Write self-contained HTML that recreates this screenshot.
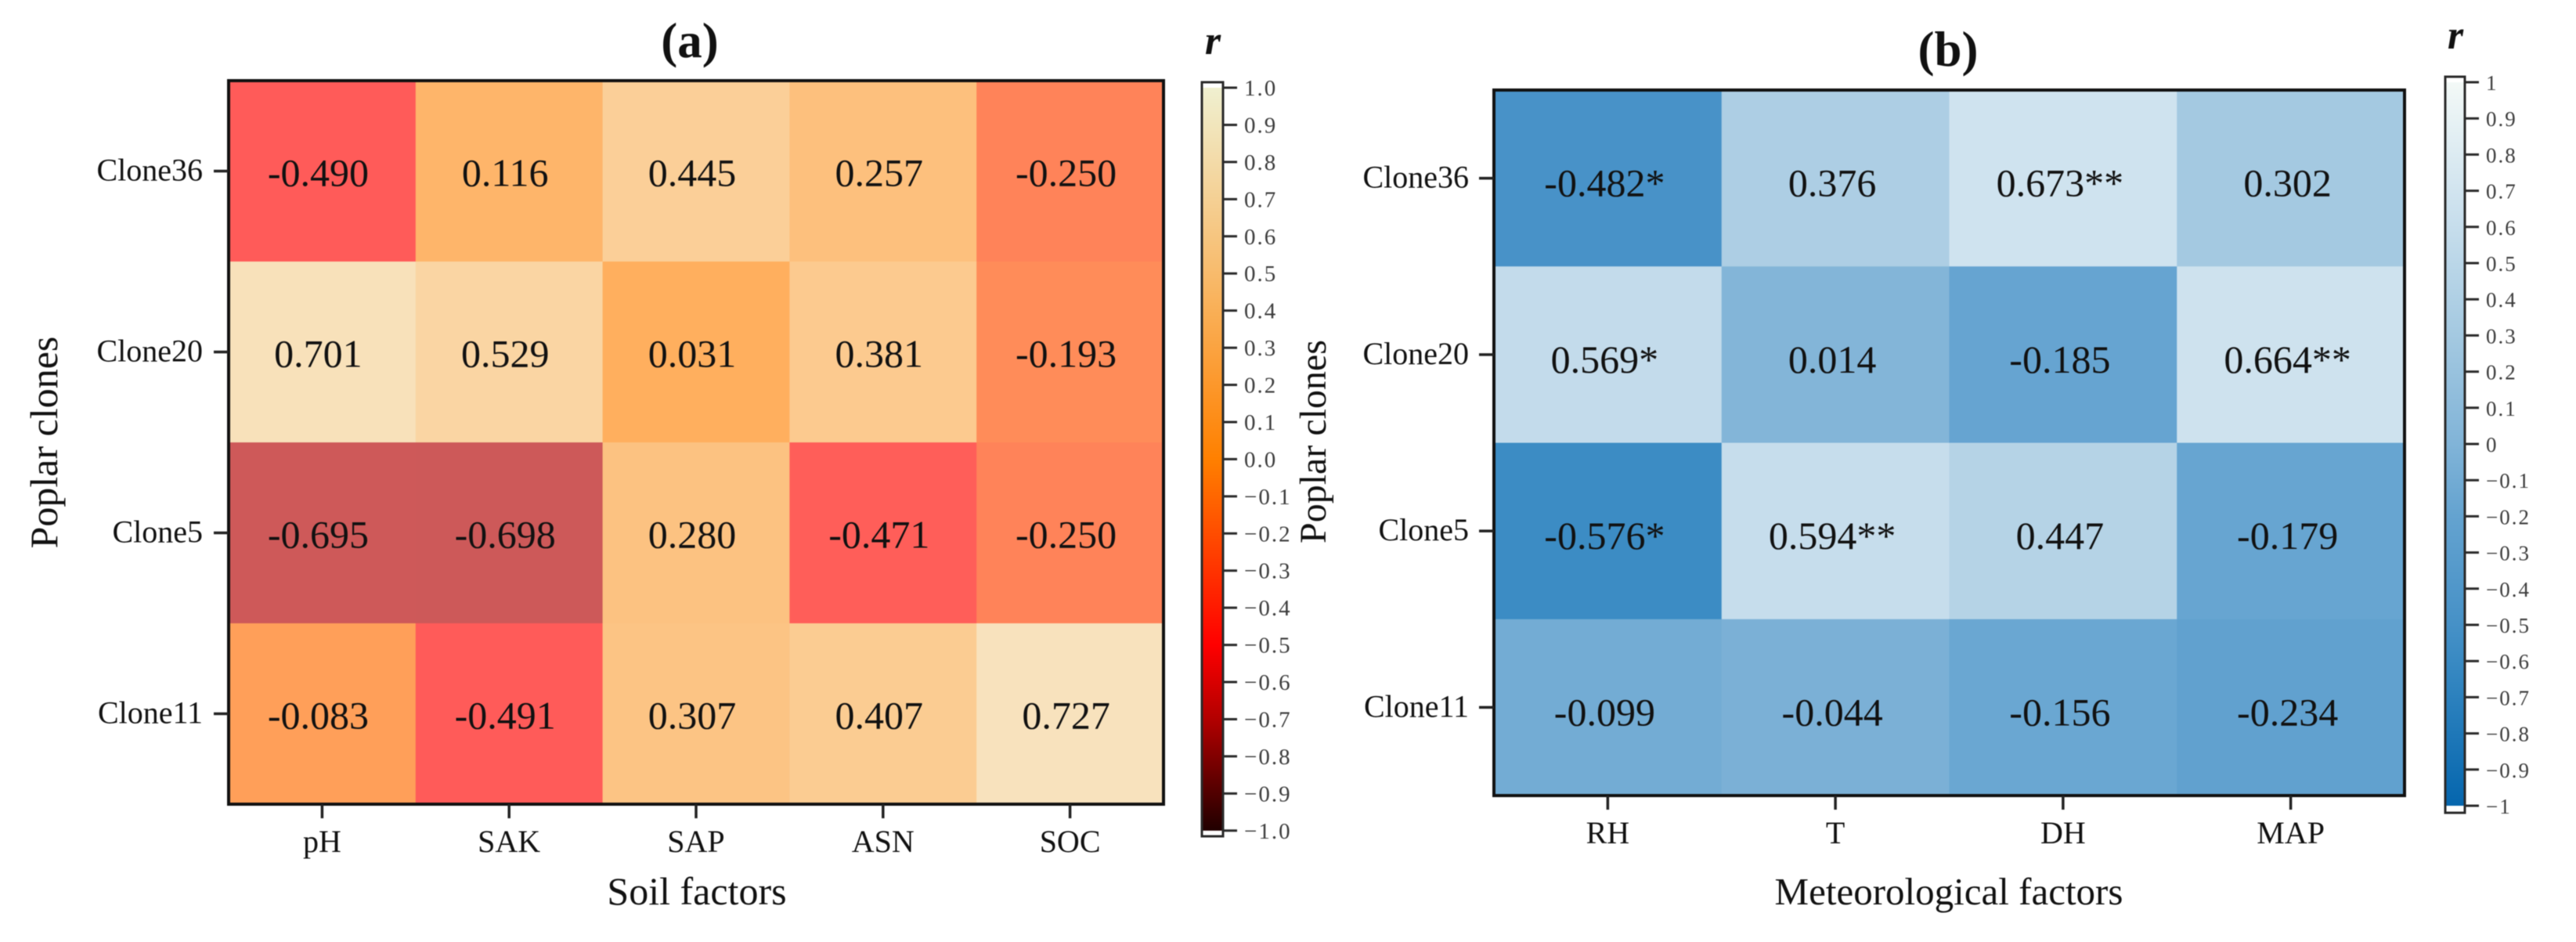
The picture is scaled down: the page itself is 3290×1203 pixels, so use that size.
<!DOCTYPE html>
<html lang="en">
<head>
<meta charset="utf-8">
<title>Correlation heatmaps of poplar clones</title>
<style>
  html, body { margin: 0; padding: 0; background: #fff; }
  body { width: 3290px; height: 1203px; overflow: hidden; }
  svg { display: block; font-family: "Liberation Serif", serif; filter: blur(0.6px); }
  text { fill: #111; }
  .cb-label { fill: #3c3c3c; letter-spacing: 2px; }
</style>
</head>
<body>
<svg id="figure" xmlns="http://www.w3.org/2000/svg" width="3290" height="1203" viewBox="0 0 3290 1203">
  <rect x="0" y="0" width="3290" height="1203" fill="#fff"/>
  <defs id="gradients"></defs>

  <g id="panel-a">
    <text x="881" y="73" font-size="63" font-weight="bold" text-anchor="middle">(a)</text>
    <text x="890" y="1155" font-size="50" text-anchor="middle">Soil factors</text>
    <text transform="translate(73 565) rotate(-90)" font-size="50" text-anchor="middle">Poplar clones</text>
    <text x="1549" y="69" font-size="52" font-style="italic" font-weight="bold" text-anchor="middle">r</text>
  </g>

  <g id="panel-b">
    <text x="2488" y="84" font-size="63" font-weight="bold" text-anchor="middle">(b)</text>
    <text x="2489" y="1155" font-size="49" text-anchor="middle">Meteorological factors</text>
    <text transform="translate(1693 564) rotate(-90)" font-size="48" text-anchor="middle">Poplar clones</text>
    <text x="3136" y="62" font-size="52" font-style="italic" font-weight="bold" text-anchor="middle">r</text>
  </g>
</svg>

<script>
// ---- Data -------------------------------------------------------------
const cloneNames = ['Clone36', 'Clone20', 'Clone5', 'Clone11'];

const soilFactors = ['pH', 'SAK', 'SAP', 'ASN', 'SOC'];
const soilClone36 = [-0.490, 0.116, 0.445, 0.257, -0.250];
const soilClone20 = [0.701, 0.529, 0.031, 0.381, -0.193];
const soilClone5 = [-0.695, -0.698, 0.280, -0.471, -0.250];
const soilClone11 = [-0.083, -0.491, 0.307, 0.407, 0.727];

const meteoFactors = ['RH', 'T', 'DH', 'MAP'];
const meteoClone36 = [-0.482, 0.376, 0.673, 0.302];
const meteoClone20 = [0.569, 0.014, -0.185, 0.664];
const meteoClone5 = [-0.576, 0.594, 0.447, -0.179];
const meteoClone11 = [-0.099, -0.044, -0.156, -0.234];

const meteoStars36 = ['*', '', '**', ''];
const meteoStars20 = ['*', '', '', '**'];
const meteoStars5 = ['*', '**', '', ''];
const meteoStars11 = ['', '', '', ''];

const colorbarTicks = [1, 0.9, 0.8, 0.7, 0.6, 0.5, 0.4, 0.3, 0.2, 0.1, 0, -0.1, -0.2, -0.3, -0.4, -0.5, -0.6, -0.7, -0.8, -0.9, -1];
const soilTickLabels = ['1.0', '0.9', '0.8', '0.7', '0.6', '0.5', '0.4', '0.3', '0.2', '0.1', '0.0', '\u22120.1', '\u22120.2', '\u22120.3', '\u22120.4', '\u22120.5', '\u22120.6', '\u22120.7', '\u22120.8', '\u22120.9', '\u22121.0'];
const meteoTickLabels = ['1', '0.9', '0.8', '0.7', '0.6', '0.5', '0.4', '0.3', '0.2', '0.1', '0', '\u22120.1', '\u22120.2', '\u22120.3', '\u22120.4', '\u22120.5', '\u22120.6', '\u22120.7', '\u22120.8', '\u22120.9', '\u22121'];

// Colour maps: [value, r, g, b]
const soilColormap = [
  [-1, 32, 0, 0], [-0.7, 178, 0, 0], [-0.5, 255, 0, 0], [0, 255, 128, 0], [0.5, 248, 187, 108], [1, 240, 240, 208]
];
const meteoColormap = [
  [-1, 5, 102, 174], [-0.6, 57, 138, 195], [-0.5, 70, 145, 199], [-0.2, 100, 163, 208],
  [0, 129, 180, 216], [0.3, 164, 201, 225], [0.65, 204, 225, 238], [1, 243, 249, 247]
];

// ---- Helpers ----------------------------------------------------------
const SVG_NS = 'http://www.w3.org/2000/svg';

function add(parent, tag, attrs, content) {
  const node = document.createElementNS(SVG_NS, tag);
  Object.keys(attrs).forEach(function (k) { node.setAttribute(k, attrs[k]); });
  if (content !== undefined) node.textContent = content;
  parent.appendChild(node);
  return node;
}

function sampleColormap(map, value) {
  const v = Math.max(map[0][0], Math.min(map[map.length - 1][0], value));
  for (let i = 1; i < map.length; i++) {
    if (v <= map[i][0]) {
      const a = map[i - 1], b = map[i];
      const t = (v - a[0]) / (b[0] - a[0]);
      return [1, 2, 3].map(function (c) { return a[c] + (b[c] - a[c]) * t; });
    }
  }
  return map[map.length - 1].slice(1);
}

function rgbString(c) {
  return 'rgb(' + c.map(Math.round).join(',') + ')';
}

function cellColor(map, value, alpha) {
  const c = sampleColormap(map, value);
  return rgbString(c.map(function (ch) { return ch * alpha + 255 * (1 - alpha); }));
}

// ---- Panel drawing ----------------------------------------------------
function drawHeatmap(group, cfg) {
  const colW = (cfg.right - cfg.left) / cfg.columns.length;
  const rowH = (cfg.bottom - cfg.top) / cfg.rows.length;
  const xCenter = function (i) { return cfg.left + colW * (i + 0.5); };
  const yCenter = function (j) { return cfg.top + rowH * (j + 0.5); };

  cfg.values.forEach(function (rowValues, j) {
    rowValues.forEach(function (value, i) {
      const cell = add(group, 'rect', {
        x: cfg.left + colW * i, y: cfg.top + rowH * j,
        width: colW + 0.5, height: rowH + 0.5,
        fill: cellColor(cfg.colormap, value, cfg.alpha)
      });
      
      
    });
  });

  cfg.values.forEach(function (rowValues, j) {
    rowValues.forEach(function (value, i) {
      const stars = cfg.stars ? cfg.stars[j][i] : '';
      const label = add(group, 'text', {
        x: xCenter(i) + cfg.valueDx, y: yCenter(j) + cfg.valueDy,
        'font-size': cfg.valueFont, 'text-anchor': 'middle', fill: '#0a0a0a'
      }, value.toFixed(3) + stars);
      
      
    });
  });

  const frame = add(group, 'rect', {
    x: cfg.left, y: cfg.top, width: cfg.right - cfg.left, height: cfg.bottom - cfg.top,
    fill: 'none', stroke: '#111', 'stroke-width': 4
  });
  
  

  cfg.columns.forEach(function (name, i) {
    const tick = add(group, 'line', {
      x1: xCenter(i), x2: xCenter(i), y1: cfg.bottom, y2: cfg.bottom + 18,
      stroke: '#222', 'stroke-width': 3.5
    });
    
    
    const label = add(group, 'text', {
      x: xCenter(i), y: cfg.xLabelY, 'font-size': 40, 'text-anchor': 'middle'
    }, name);
    
    
  });

  cfg.rows.forEach(function (name, j) {
    const tick = add(group, 'line', {
      x1: cfg.left - 19, x2: cfg.left, y1: yCenter(j), y2: yCenter(j),
      stroke: '#222', 'stroke-width': 3.5
    });
    
    
    const label = add(group, 'text', {
      x: cfg.yLabelX, y: yCenter(j) + 12, 'font-size': 40, 'text-anchor': 'end'
    }, name);
    
    
  });
}

function drawColorbar(group, cfg) {
  const yScale = function (v) { return cfg.mid - v * cfg.halfSpan; };
  const defs = document.getElementById('gradients');
  const grad = add(defs, 'linearGradient', {
    id: cfg.id, gradientUnits: 'userSpaceOnUse',
    x1: 0, x2: 0, y1: yScale(1), y2: yScale(-1)
  });
  cfg.colormap.slice().reverse().forEach(function (stop) {
    add(grad, 'stop', {
      offset: (1 - stop[0]) / 2,
      'stop-color': rgbString(stop.slice(1))
    });
  });

  const bar = add(group, 'rect', {
    x: cfg.left, y: yScale(1), width: cfg.right - cfg.left, height: yScale(-1) - yScale(1),
    fill: 'url(#' + cfg.id + ')'
  });
  
  

  const outline = add(group, 'rect', {
    x: cfg.left, y: cfg.top, width: cfg.right - cfg.left, height: cfg.bottom - cfg.top,
    fill: 'none', stroke: '#2a2a2a', 'stroke-width': 3
  });
  
  

  colorbarTicks.forEach(function (value, i) {
    const tick = add(group, 'line', {
      x1: cfg.right, x2: cfg.right + 18, y1: yScale(value), y2: yScale(value),
      stroke: '#2a2a2a', 'stroke-width': 3
    });
    
    
    const label = add(group, 'text', {
      x: cfg.labelX, y: yScale(value) + cfg.labelDy, 'font-size': cfg.labelFont, 'class': 'cb-label'
    }, cfg.labels[i]);
    
    
  });
}

// ---- Build ------------------------------------------------------------
const panelA = document.getElementById('panel-a');
const panelB = document.getElementById('panel-b');

drawHeatmap(panelA, {
  left: 292, right: 1486, top: 103, bottom: 1027,
  columns: soilFactors, rows: cloneNames,
  values: [soilClone36, soilClone20, soilClone5, soilClone11],
  colormap: soilColormap, alpha: 0.65,
  valueFont: 50, valueDx: -5, valueDy: 19,
  xLabelY: 1088, yLabelX: 259
});
drawColorbar(panelA, {
  id: 'soil-gradient', left: 1535, right: 1562, top: 105, bottom: 1068,
  mid: 586.4, halfSpan: 474.4, colormap: soilColormap,
  labels: soilTickLabels, labelX: 1589, labelDy: 10, labelFont: 29
});

drawHeatmap(panelB, {
  left: 1908, right: 3071, top: 115, bottom: 1016,
  columns: meteoFactors, rows: cloneNames,
  values: [meteoClone36, meteoClone20, meteoClone5, meteoClone11],
  stars: [meteoStars36, meteoStars20, meteoStars5, meteoStars11],
  colormap: meteoColormap, alpha: 1,
  valueFont: 50, valueDx: -4, valueDy: 23,
  xLabelY: 1077, yLabelX: 1876
});
drawColorbar(panelB, {
  id: 'meteo-gradient', left: 3123, right: 3148, top: 98, bottom: 1038,
  mid: 567, halfSpan: 462, colormap: meteoColormap,
  labels: meteoTickLabels, labelX: 3175, labelDy: 10, labelFont: 27
});
</script>
</body>
</html>
